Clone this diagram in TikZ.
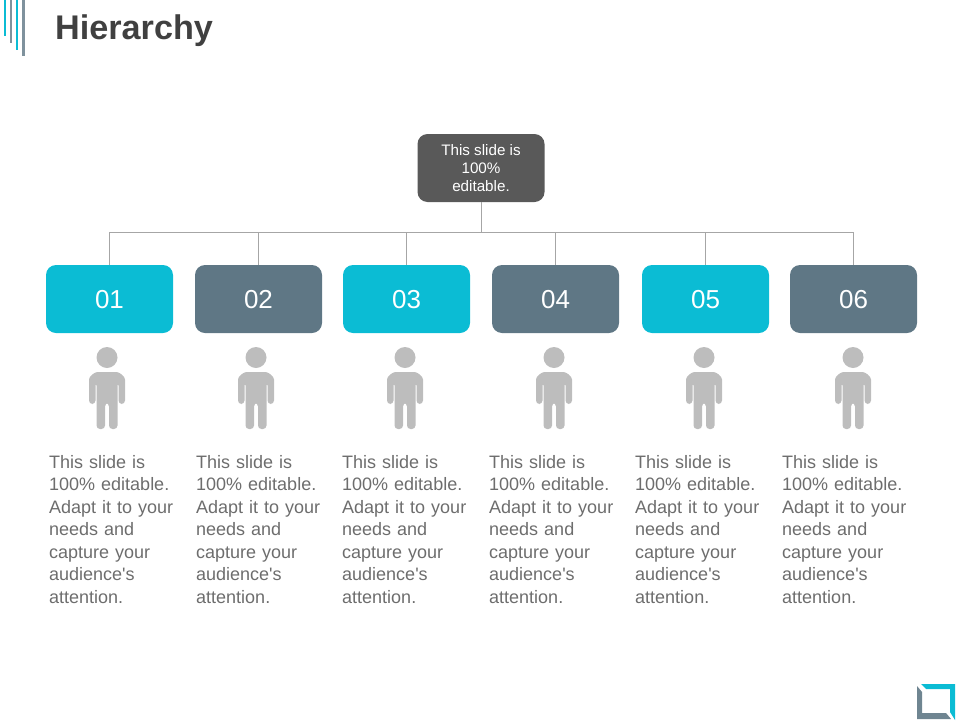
\documentclass[tikz,border=0pt]{standalone}
\usepackage{fontspec}
\setmainfont{Liberation Sans}
\font\straightfont="Liberation Sans" at 18pt
\newcommand{\apos}{{\straightfont\char39}}
\definecolor{c_teal}{HTML}{0BBCD4}
\definecolor{c_slate}{HTML}{5F7785}
\definecolor{c_dark}{HTML}{595959}
\definecolor{c_person}{HTML}{BDBDBD}
\definecolor{c_text}{HTML}{6D6D6D}
\definecolor{c_title}{HTML}{404040}
\definecolor{c_line}{HTML}{A6A6A6}
\tikzset{
	node_box/.style = {
		rectangle,
		rounded corners=10pt,
		inner sep=0pt,
		align=center,
		text=white,
		minimum width=127pt,
		minimum height=68pt
	},
	node_top/.style = {
		node_box,
		fill=c_dark,
		font=\fontsize{15.2}{18.5}\selectfont
	},
	node_num/.style = {
		node_box,
		font=\fontsize{26}{30}\selectfont
	},
	node_desc/.style = {
		anchor=north west,
		inner sep=0pt,
		align=left,
		text=c_text,
		text width=140pt,
		font=\fontsize{18}{22.5}\selectfont
	},
	node_title/.style = {
		anchor=west,
		inner sep=0pt,
		text=c_title,
		font=\fontsize{34.2}{40}\selectfont\bfseries
	},
	link/.style = {
		draw=c_line,
		line width=1pt
	},
	person/.pic = {
		\fill [c_person] (0,-10.5) circle (10.5);
		\fill [c_person, rounded corners=3.5pt] (-18,36) -- (-18,15) .. controls (-18,8) and (-12,4) .. (-6,4)
			-- (6,4) .. controls (12,4) and (18,8) .. (18,15) -- (18,36) -- (11.5,36) -- (11.5,14) -- (10.5,14) -- (10.5,61)
			-- (2,61) -- (2,35) -- (-2,35) -- (-2,61) -- (-10.5,61) -- (-10.5,14) -- (-11.5,14) -- (-11.5,36) -- cycle;
	},
}
\begin{document}
\begin{tikzpicture}[x=1pt,y=-1pt]
\useasboundingbox (0,0) rectangle (960,720);
% corner strokes
\fill [c_teal] (4,0) rectangle (6,36);
\fill [c_slate!80] (10,0) rectangle (12,43);
\fill [c_teal] (16,0) rectangle (18,50);
\fill [c_slate!80] (22,0) rectangle (25,56);
\node [node_title] (title) at (55,30.5) {Hierarchy};
\node [node_top] (top) at (481,168) {\raisebox{-1pt}{This slide is}\\\raisebox{-1pt}{100\%}\\editable.};
\coordinate (bus) at (top.south |- 0,232.5);
\draw [link] (top.south) -- (bus);
\foreach \i/\bx/\px/\tx/\col in {1/109.5/107/49/c_teal, 2/258.5/256/196/c_slate, 3/406.5/405/342/c_teal, 4/555.5/554/489/c_slate, 5/705.5/704/635/c_teal, 6/853.5/853/782/c_slate} {
	\node [node_num, fill=\col] (box\i) at (\bx,299) {\raisebox{-1pt}[\height][\depth]{0\i}};
	\draw [link] (bus) -| (box\i.north);
	\pic at (\px,368) {person};
	\node [node_desc] (desc\i) at (\tx,455) {This slide is\\100\% editable.\\Adapt it to your\\needs and\\capture your\\audience\apos{}s\\attention.};
}
% corner mark
\fill [c_teal] (921,684) -- (955,684) -- (955,720) -- (950,712) -- (950,689) -- (926,689) -- cycle;
\fill [c_slate!90] (917,686) -- (922,692) -- (922,713) -- (946,713) -- (951,719) -- (917,719) -- cycle;
\end{tikzpicture}
\end{document}
